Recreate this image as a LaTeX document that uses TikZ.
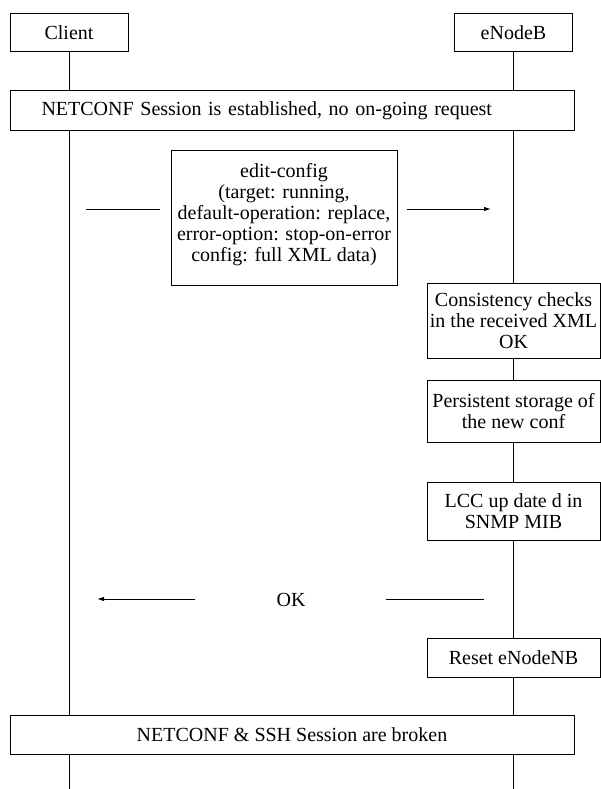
\documentclass[tikz,border=0pt]{standalone}
\usepackage{fontspec}
\setmainfont{Liberation Serif}
\usetikzlibrary{arrows.meta,calc}
\tikzset{
  box/.style={draw, line width=1pt, inner sep=0pt, align=center,
    font=\fontsize{20}{21.2}\selectfont},
  life/.style={line width=1pt},
  msg/.style={line width=1pt},
  msgarrow/.style={line width=1pt, -{Latex[length=7pt,width=4.5pt]}},
  lbl/.style={inner sep=0pt, font=\fontsize{20}{21.2}\selectfont}
}
\begin{document}
\begin{tikzpicture}[x=1pt,y=-1pt]
\useasboundingbox (0,0) rectangle (600,789);
% actors
\node[box, minimum width=118pt, minimum height=38pt] (client) at (69,33) {Client};
\node[box, minimum width=118pt, minimum height=38pt] (enb) at (513.5,33) {eNodeB};
% session established
\node[box, anchor=west, minimum height=39pt, text width=502pt, inner xsep=31pt, align=left] (sess) at (10,110.5) {NETCONF Session is established, no on-going request};
% edit-config message box
\node[box, minimum width=226pt, minimum height=135pt, text depth=10pt] (edit) at (284,217.5)
  {edit-config\\(target: running,\\default-operation: replace,\\error-option: stop-on-error\\config: full XML data)};
% eNodeB actions
\node[box, minimum width=173pt, minimum height=75pt] (cons) at (513.5,320.5) {Consistency checks\\in the received XML\\OK};
\node[box, minimum width=173pt, minimum height=62pt] (pers) at (513.5,411) {Persistent storage of\\the new conf};
\node[box, minimum width=173pt, minimum height=58pt] (lcc) at (513.5,511) {LCC up date d in\\SNMP MIB};
\node[box, minimum width=173pt, minimum height=39pt] (reset) at (513.5,657.5) {Reset eNodeNB};
% session broken
\node[box, minimum width=564pt, minimum height=39pt] (broken) at (292,734.5) {NETCONF \& SSH Session are broken};
% OK label
\node[lbl] (ok) at (291,600) {OK};
% coordinates
\coordinate (cbot) at (69,789);
\coordinate (ebot) at (513.5,789);
\coordinate (m1a) at (86,209);
\coordinate (m1b) at (160,209);
\coordinate (m1c) at (407,209);
\coordinate (m1d) at (491,209);
\coordinate (m2a) at (484,599);
\coordinate (m2b) at (386,599);
\coordinate (m2c) at (195,599);
\coordinate (m2d) at (97,599);
% client lifeline
\draw[life] (client.south) -- (client.south |- sess.north);
\draw[life] (client.south |- sess.south) -- (client.south |- broken.north);
\draw[life] (client.south |- broken.south) -- (cbot);
% eNodeB lifeline
\draw[life] (enb.south) -- (enb.south |- sess.north);
\draw[life] (enb.south |- sess.south) -- (cons.north);
\draw[life] (cons.south) -- (pers.north);
\draw[life] (pers.south) -- (lcc.north);
\draw[life] (lcc.south) -- (reset.north);
\draw[life] (reset.south) -- (enb.south |- broken.north);
\draw[life] (enb.south |- broken.south) -- (ebot);
% messages
\draw[msg] (m1a) -- (m1b);
\draw[msgarrow] (m1c) -- (m1d);
\draw[msg] (m2a) -- (m2b);
\draw[msgarrow] (m2c) -- (m2d);
\end{tikzpicture}
\end{document}
